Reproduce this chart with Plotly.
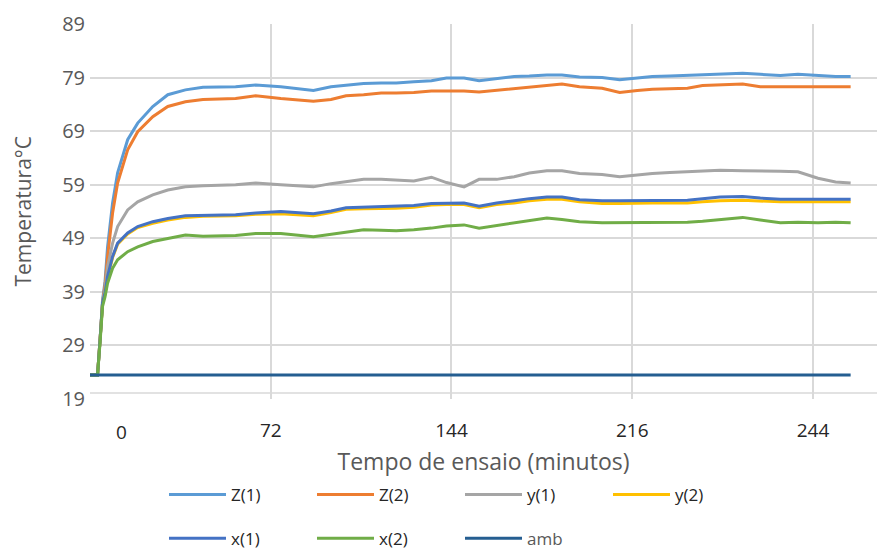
import plotly.graph_objects as go

# time axis (minutes) at which values were read
minutes = [0, 3, 4, 5, 6, 7, 9, 11, 15, 19, 25, 31, 38, 45, 58, 66, 76, 89, 96, 102,
           109, 116, 122, 129, 136, 142, 149, 155, 162, 169, 175, 182, 188, 195, 204,
           211, 218, 224, 231, 238, 244, 251, 260, 267, 275, 282, 290, 297, 303]

z1 = [23.5, 23.5, 30.0, 37.5, 41.0, 47.4, 55.6, 61.2, 67.4, 70.5, 73.6, 75.8, 76.7, 77.2,
      77.3, 77.6, 77.3, 76.6, 77.3, 77.6, 77.9, 78.0, 78.0, 78.2, 78.4, 78.9, 78.9, 78.4,
      78.8, 79.2, 79.3, 79.5, 79.5, 79.1, 79.0, 78.6, 78.9, 79.2, 79.3, 79.4, 79.5, 79.6,
      79.8, 79.6, 79.4, 79.6, 79.4, 79.2, 79.2]
z2 = [23.5, 23.5, 30.0, 37.0, 40.3, 45.6, 53.7, 59.3, 65.5, 68.9, 71.7, 73.6, 74.5, 74.9,
      75.1, 75.6, 75.1, 74.6, 74.9, 75.6, 75.8, 76.1, 76.1, 76.2, 76.5, 76.5, 76.5, 76.3,
      76.6, 77.0, 77.2, 77.5, 77.8, 77.3, 77.0, 76.2, 76.6, 76.8, 76.9, 77.0, 77.5, 77.6,
      77.8, 77.3, 77.3, 77.3, 77.3, 77.3, 77.3]
y1 = [23.5, 23.5, 30.0, 37.0, 39.5, 43.7, 48.1, 51.2, 54.3, 55.8, 57.1, 58.0, 58.6, 58.8,
      59.0, 59.3, 59.0, 58.6, 59.2, 59.6, 60.0, 60.0, 59.8, 59.7, 60.4, 59.4, 58.6, 60.0,
      60.0, 60.5, 61.2, 61.6, 61.6, 61.1, 60.9, 60.5, 60.8, 61.1, 61.3, 61.4, 61.6, 61.7,
      61.6, 61.6, 61.5, 61.4, 60.2, 59.5, 59.3]
y2 = [23.5, 23.5, 30.0, 36.8, 38.6, 41.7, 45.4, 47.9, 49.8, 51.0, 51.8, 52.4, 52.9, 53.1,
      53.2, 53.5, 53.6, 53.2, 53.8, 54.4, 54.5, 54.5, 54.6, 54.8, 55.2, 55.3, 55.3, 54.7,
      55.3, 55.6, 56.0, 56.3, 56.3, 55.8, 55.5, 55.5, 55.6, 55.6, 55.6, 55.6, 55.8, 56.0,
      56.1, 55.9, 55.8, 55.8, 55.8, 55.8, 55.8]
x1 = [23.5, 23.5, 30.0, 37.0, 38.8, 41.9, 45.6, 48.1, 50.0, 51.2, 52.1, 52.7, 53.2, 53.3,
      53.4, 53.7, 54.0, 53.6, 54.1, 54.7, 54.8, 54.9, 54.9, 55.1, 55.5, 55.6, 55.6, 55.0,
      55.6, 56.0, 56.4, 56.7, 56.7, 56.2, 56.0, 56.0, 56.0, 56.0, 56.0, 56.1, 56.4, 56.7,
      56.8, 56.5, 56.3, 56.3, 56.3, 56.3, 56.3]
x2 = [23.5, 23.5, 29.5, 36.3, 38.1, 40.6, 43.4, 45.0, 46.5, 47.4, 48.4, 49.0, 49.6, 49.4,
      49.5, 49.9, 49.9, 49.3, 49.8, 50.2, 50.6, 50.5, 50.4, 50.6, 50.9, 51.3, 51.5, 50.9,
      51.4, 51.9, 52.3, 52.8, 52.5, 52.1, 51.9, 51.9, 52.0, 51.9, 51.9, 52.0, 52.2, 52.5,
      52.9, 52.4, 51.9, 52.0, 51.9, 52.0, 51.9]
amb = [23.5] * len(minutes)

series_names = ["Z(1)", "Z(2)", "y(1)", "y(2)", "x(1)", "x(2)", "amb"]
series_values = [z1, z2, y1, y2, x1, x2, amb]
colors = ["#5B9BD5", "#ED7D31", "#A5A5A5", "#FFC000", "#4472C4", "#70AD47", "#255E91"]
legend_ids = ["legend", "legend", "legend", "legend", "legend2", "legend2", "legend2"]
legend_text_colors = ["#262626"] * 6 + ["#595959"]

x_tickvals = [0, 72, 144, 216, 288]
x_ticktext = ["", "72", "144", "216", "244"]
y_tickvals = [19, 29, 39, 49, 59, 69, 79, 89]

FONT = "Open Sans"

fig = go.Figure()
for name, vals, col, lg, tc in zip(series_names, series_values, colors, legend_ids,
                                   legend_text_colors):
    fig.add_trace(go.Scatter(
        x=minutes, y=vals, mode="lines",
        name=f"<span style='color:{tc}'>{name}</span>",
        line=dict(color=col, width=3),
        legend=lg,
    ))

grid = "#D9D9D9"
legend_common = dict(orientation="h", xref="container", yref="container",
                     xanchor="left", yanchor="middle",
                     entrywidth=76, entrywidthmode="pixels", itemwidth=57,
                     font=dict(size=17, color="#262626"), bgcolor="rgba(0,0,0,0)")
fig.update_layout(
    width=877, height=553,
    margin=dict(l=90, r=0, t=24, b=154, autoexpand=False),
    paper_bgcolor="white", plot_bgcolor="white",
    font=dict(family=FONT, color="#404040"),
    xaxis=dict(
        range=[0, 313.5], tickmode="array", tickvals=x_tickvals, ticktext=x_ticktext,
        showgrid=True, gridcolor=grid, gridwidth=1.5, zeroline=False, showline=False,
        ticks="", tickfont=dict(size=19, color="#262626"), ticklabelstandoff=18,
        title=dict(text="Tempo de ensaio (minutos)", font=dict(size=23, color="#595959"),
                   standoff=19),
    ),
    yaxis=dict(
        range=[19, 89], tickmode="array", tickvals=y_tickvals,
        showgrid=True, gridcolor=grid, gridwidth=1.5, zeroline=False, showline=False,
        ticks="", tickfont=dict(size=20, color="#595959"), ticklabelstandoff=4,
    ),
    legend=dict(x=0.187, y=0.105, **legend_common),
    legend2=dict(x=0.187, y=0.026, **legend_common),
    showlegend=True,
)

# y-axis title placed to the left of the tick labels
fig.add_annotation(x=0, xref="paper", xanchor="center", xshift=-68,
                   y=0.5, yref="paper", yanchor="middle",
                   text="Temperatura°C", textangle=-90, showarrow=False,
                   font=dict(size=21, color="#595959", family=FONT))

# x-axis baseline slightly above the lowest gridline, and the "0" category label
fig.add_shape(type="line", xref="paper", x0=0, x1=1, yref="y", y0=20.1, y1=20.1,
              line=dict(color=grid, width=1.5), layer="below")
fig.add_annotation(x=12.7, xref="x", y=0, yref="paper", yanchor="middle", yshift=-33,
                   text="0", showarrow=False,
                   font=dict(size=19, color="#262626", family=FONT))

fig.write_html("out.html", config={"displayModeBar": False},
               post_script="document.body.style.margin='0';")
